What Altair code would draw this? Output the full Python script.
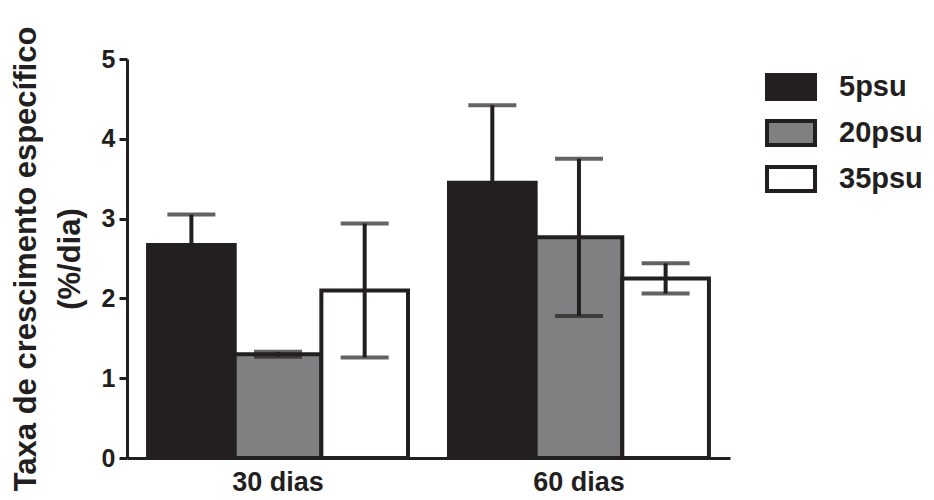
import altair as alt
import pandas as pd

groups = ["30 dias", "30 dias", "30 dias", "60 dias", "60 dias", "60 dias"]
series = ["5psu", "20psu", "35psu", "5psu", "20psu", "35psu"]
means = [2.67, 1.30, 2.10, 3.45, 2.765, 2.25]
errs = [0.38, 0.03, 0.84, 0.97, 0.985, 0.19]

series_order = ["5psu", "20psu", "35psu"]
series_colors = ["#231f20", "#808082", "#ffffff"]
group_order = ["30 dias", "60 dias"]
y_ticks = [0, 1, 2, 3, 4, 5]

df = pd.DataFrame({"grupo": groups, "serie": series, "media": means, "erro": errs})
df["lo"] = df["media"] - df["erro"]
df["hi"] = df["media"] + df["erro"]

FONT = "Liberation Sans"

x_enc = alt.X("grupo:N", sort=group_order,
              scale=alt.Scale(paddingInner=0.1362, paddingOuter=0.07),
              axis=alt.Axis(title=None, labelAngle=0, ticks=False, labelFontSize=27,
                            labelFontWeight="bold", labelFont=FONT, labelColor="#231f20",
                            labelPadding=11, domainColor="#231f20", domainWidth=3))
xoff = alt.XOffset("serie:N", sort=series_order, scale=alt.Scale(paddingInner=0, paddingOuter=0))

bars = alt.Chart(df).mark_bar(stroke="#231f20", strokeWidth=4).encode(
    x=x_enc,
    xOffset=xoff,
    y=alt.Y("media:Q", scale=alt.Scale(domain=[0, 5], nice=False),
            axis=alt.Axis(values=y_ticks, format="d", grid=False,
                          title=["Taxa de crescimento específico", "(%/dia)"],
                          titleFontSize=31, titleFont=FONT, titleFontWeight="bold",
                          titleColor="#231f20", titleLineHeight=44, titlePadding=15,
                          labelFontSize=25, labelFont=FONT, labelFontWeight="bold",
                          labelColor="#231f20", labelPadding=4,
                          tickSize=8, tickWidth=3, tickColor="#231f20",
                          domainColor="#231f20", domainWidth=3)),
    fill=alt.Fill("serie:N", sort=series_order,
                  scale=alt.Scale(domain=series_order, range=series_colors),
                  legend=alt.Legend(title=None, orient="none", legendX=638, legendY=2,
                                    symbolType="M-1,-0.5H1V0.5H-1Z", symbolSize=2304,
                                    symbolStrokeColor="#231f20", symbolStrokeWidth=4,
                                    labelFontSize=29, labelFont=FONT, labelFontWeight="bold",
                                    labelColor="#231f20", labelOffset=22, rowPadding=-2,
                                    labelLimit=300)),
)

rules = alt.Chart(df).mark_rule(color="#231f20", strokeWidth=4).encode(
    x=alt.X("grupo:N", sort=group_order),
    xOffset=alt.XOffset("serie:N", sort=series_order),
    y="lo:Q",
    y2="hi:Q",
)

caps_hi = alt.Chart(df).mark_tick(color="#231f20", thickness=4, size=48, orient="horizontal").encode(
    x=alt.X("grupo:N", sort=group_order),
    xOffset=alt.XOffset("serie:N", sort=series_order),
    y="hi:Q",
)
caps_lo = alt.Chart(df).mark_tick(color="#231f20", thickness=4, size=48, orient="horizontal").encode(
    x=alt.X("grupo:N", sort=group_order),
    xOffset=alt.XOffset("serie:N", sort=series_order),
    y="lo:Q",
)

chart = alt.layer(bars, rules, caps_lo, caps_hi).properties(
    width=603, height=399,
    autosize=alt.AutoSizeParams(type="none"),
    padding={"left": 119, "top": 51, "right": 196, "bottom": 41},
).configure_view(stroke=None)

chart.save("out.html", embed_options={"renderer": "svg", "actions": False})
